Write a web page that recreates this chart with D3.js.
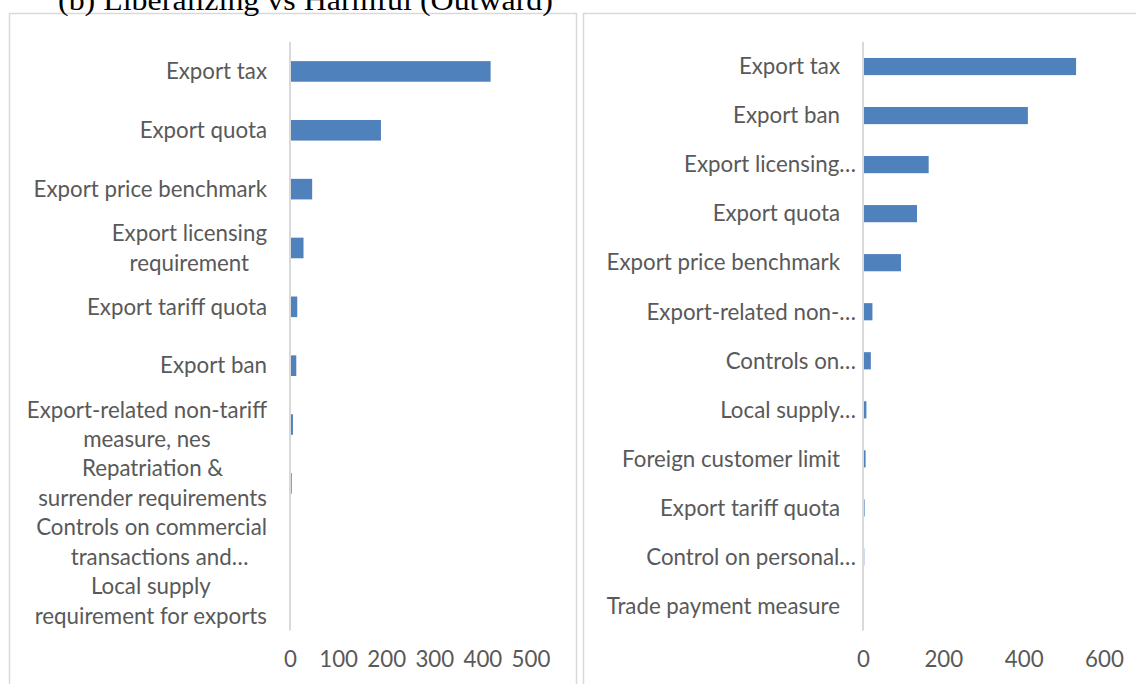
<!DOCTYPE html>
<html>
<head>
<meta charset="utf-8">
<script src="https://cdn.jsdelivr.net/npm/d3@7"></script>
<style>
  body { margin: 0; background: #fff; }
  svg { display: block; }
  text { font-family: Lato, "Open Sans", sans-serif; fill: #595959; }
</style>
</head>
<body>
<svg id="chart" width="1136" height="684"></svg>
<script>
// left panel data (wrapped labels use \n)
var leftCategories = [
    "Export tax",
    "Export quota",
    "Export price benchmark",
    "Export licensing\nrequirement",
    "Export tariff quota",
    "Export ban",
    "Export-related non-tariff\nmeasure, nes",
    "Repatriation &\nsurrender requirements",
    "Controls on commercial\ntransactions and…",
    "Local supply\nrequirement for exports"
];
var leftValues = [415, 187, 44, 26, 13, 11, 4, 1.5, 0, 0];
var leftTicks = [0, 100, 200, 300, 400, 500];

// right panel data
var rightCategories = [
    "Export tax",
    "Export ban",
    "Export licensing…",
    "Export quota",
    "Export price benchmark",
    "Export-related non-…",
    "Controls on…",
    "Local supply…",
    "Foreign customer limit",
    "Export tariff quota",
    "Control on personal…",
    "Trade payment measure"
];
var rightValues = [528, 408, 161, 132, 92, 21, 17, 6, 4, 1.5, 0.7, 0];
var rightTicks = [0, 200, 400, 600];

var titleText = "(b) Liberalizing vs Harmful (Outward)";

var svg = d3.select("#chart");

// panel frames
svg.append("rect").attr("x", 9.5).attr("y", 13.5).attr("width", 567).attr("height", 700)
    .attr("fill", "none").attr("stroke", "#d9d9d9").attr("stroke-width", 1.5);
svg.append("rect").attr("x", 583.5).attr("y", 13.5).attr("width", 600).attr("height", 700)
    .attr("fill", "none").attr("stroke", "#d9d9d9").attr("stroke-width", 1.5);

// title, cut off by the top of the page
svg.append("text")
    .attr("x", 58).attr("y", 10)
    .attr("textLength", 495).attr("lengthAdjust", "spacingAndGlyphs")
    .style("font-family", "'Liberation Serif', 'Times New Roman', serif")
    .style("font-size", "29px").style("fill", "#000")
    .text(titleText);

var plotTop = 42, plotBottom = 630.5;
var fontSize = 22.3, lineGap = 29.5, ellipsisPad = 16;

function drawPanel(cats, vals, ticks, x0, x1, labelRight) {
    var x = d3.scaleLinear().domain([0, ticks[ticks.length - 1]]).range([x0, x1]);
    var y = d3.scaleBand().domain(cats).range([plotTop, plotBottom])
        .paddingInner(0.65).paddingOuter(0.325);

    var g = svg.append("g");

    // bars
    g.selectAll("rect.bar").data(cats).enter().append("rect")
        .attr("class", "bar")
        .attr("x", x(0) + 1)
        .attr("y", function (d) { return y(d); })
        .attr("width", function (d, i) { return Math.max(0, x(vals[i]) - x(0)); })
        .attr("height", y.bandwidth())
        .attr("fill", "#4f81bd");

    // category axis line
    g.append("line")
        .attr("x1", x(0)).attr("x2", x(0))
        .attr("y1", plotTop).attr("y2", plotBottom)
        .attr("stroke", "#d9d9d9").attr("stroke-width", 2);

    // value axis labels
    var ax = g.append("g")
        .attr("transform", "translate(0," + 651 + ")")
        .call(d3.axisBottom(x).tickValues(ticks).tickSize(0).tickPadding(0));
    ax.select(".domain").remove();
    ax.selectAll("text")
        .style("font-size", fontSize + "px")
        .style("fill", "#595959")
        .attr("dy", "0.71em");

    // category labels: block right-aligned, lines centred in the block
    cats.forEach(function (c) {
        var lines = c.split("\n");
        var cy = y(c) + y.bandwidth() / 2;
        var texts = lines.map(function (ln, k) {
            return g.append("text")
                .style("font-size", fontSize + "px")
                .attr("y", cy + (k - (lines.length - 1) / 2) * lineGap)
                .attr("dy", "0.35em")
                .text(ln);
        });
        var eff = texts.map(function (t, k) {
            var w = t.node().getComputedTextLength();
            return lines[k].slice(-1) === "…" ? w - ellipsisPad : w;
        });
        var blockW = d3.max(eff);
        texts.forEach(function (t, k) {
            t.attr("x", labelRight - blockW + (blockW - eff[k]) / 2);
        });
    });
}

drawPanel(leftCategories, leftValues, leftTicks, 290, 530.5, 267);
drawPanel(rightCategories, rightValues, rightTicks, 863, 1104, 840);
</script>
</body>
</html>
